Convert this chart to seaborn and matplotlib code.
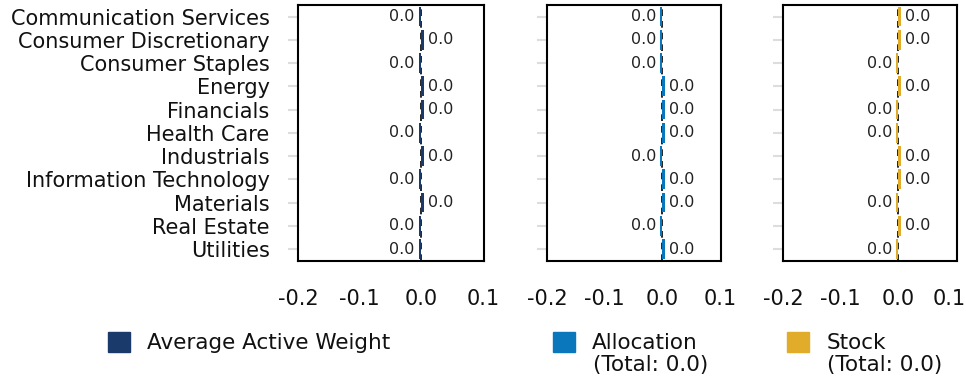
import matplotlib
matplotlib.use('Agg')
import matplotlib.pyplot as plt
import matplotlib.transforms as mtransforms
import pandas as pd
import seaborn as sns
from matplotlib.patches import Patch

# sectors, top to bottom
sectors = ['Communication Services', 'Consumer Discretionary', 'Consumer Staples', 'Energy',
           'Financials', 'Health Care', 'Industrials', 'Information Technology', 'Materials',
           'Real Estate', 'Utilities']
avg_active_weight = [-0.0035, 0.0045, -0.0035, 0.0045, 0.0045, -0.0035, 0.0045, -0.0035, 0.0045, -0.0035, -0.0035]
allocation = [-0.0035, -0.0035, -0.0035, 0.0045, 0.0045, 0.0045, -0.0035, 0.0045, 0.0045, -0.0035, 0.0045]
stock = [0.0045, 0.0045, -0.0035, 0.0045, -0.0035, -0.0035, 0.0045, 0.0045, -0.0035, 0.0045, -0.0035]
x_ticks = [-0.2, -0.1, 0.0, 0.1]
allocation_total = 0.0
stock_total = 0.0

colors = {'avg': '#1a3a6b', 'alloc': '#0a77bd', 'stock': '#e0ac2a'}

sns.set_style('white')
plt.rcParams['font.family'] = ['DejaVu Sans']
plt.rcParams['axes.unicode_minus'] = False
txt = '#111111'

fig = plt.figure(figsize=(9.66, 3.79), dpi=100)
bottom, height = 0.312, 0.675
ax1 = fig.add_axes([0.3085, bottom, 0.1925, height])
ax2 = fig.add_axes([0.5663, bottom, 0.1801, height])
ax3 = fig.add_axes([0.8106, bottom, 0.1801, height])

panels = [(ax1, avg_active_weight, colors['avg']),
          (ax2, allocation, colors['alloc']),
          (ax3, stock, colors['stock'])]

for i, (ax, vals, col) in enumerate(panels):
    df = pd.DataFrame({'sector': sectors, 'value': vals})
    ax.axvline(0, color='black', lw=1.2, ls=(0, (4, 3)), zorder=1)
    sns.barplot(data=df, x='value', y='sector', orient='h', color=col, saturation=1,
                width=0.85, linewidth=0, edgecolor=col, ax=ax, zorder=2)
    ax.bar_label(ax.containers[0], labels=[f'{abs(v):.1f}' for v in vals],
                 padding=3, fontsize=11.5, color='#222222')
    ax.set_xlim(-0.2, 0.102)
    ax.set_ylim(len(sectors) - 0.5, -0.5)
    ax.set_xlabel('')
    ax.set_ylabel('')
    # labels at all ticks, marks only at the inner ones
    ax.set_xticks(x_ticks)
    ax.set_xticklabels([f'{t:.1f}' for t in x_ticks])
    ax.set_xticks([-0.1, 0.0], minor=True)
    ax.tick_params(axis='x', which='major', length=0, pad=20, labelsize=15, labelcolor=txt)
    ax.tick_params(axis='x', which='minor', bottom=True, length=5, width=1.5, color='#dddddd')
    ax.tick_params(axis='y', left=True, length=7.5, width=1.5, color='#dddddd', pad=13,
                   labelsize=15, labelcolor=txt)
    if i > 0:
        ax.set_yticklabels([])
    for s in ax.spines.values():
        s.set_visible(True)
        s.set_color('black')
        s.set_linewidth(1.5)

# keep the last tick label of the right panel inside the figure
last = ax3.get_xticklabels()[-1]
last.set_transform(last.get_transform() + mtransforms.ScaledTranslation(-5 / 72, 0, fig.dpi_scale_trans))

leg_kw = dict(frameon=False, fontsize=15.5, borderpad=0, borderaxespad=0,
              handlelength=1.02, handleheight=1.02, handletextpad=0.8, loc='upper left',
              labelcolor=txt)
legend_items = [(108, colors['avg'], 'Average Active Weight', None),
                (553, colors['alloc'], 'Allocation', allocation_total),
                (787, colors['stock'], 'Stock', stock_total)]
for x0, col, name, total in legend_items:
    leg = fig.legend(handles=[Patch(color=col, label=name)],
                     bbox_to_anchor=(x0 / 966, 1 - 332 / 379), **leg_kw)
    if total is not None:
        fig.text((x0 + 40) / 966, 1 - 365 / 379, f'(Total: {total:.1f})', fontsize=15.5,
                 color=txt, va='center', ha='left')

plt.savefig('out.png', dpi=100)
